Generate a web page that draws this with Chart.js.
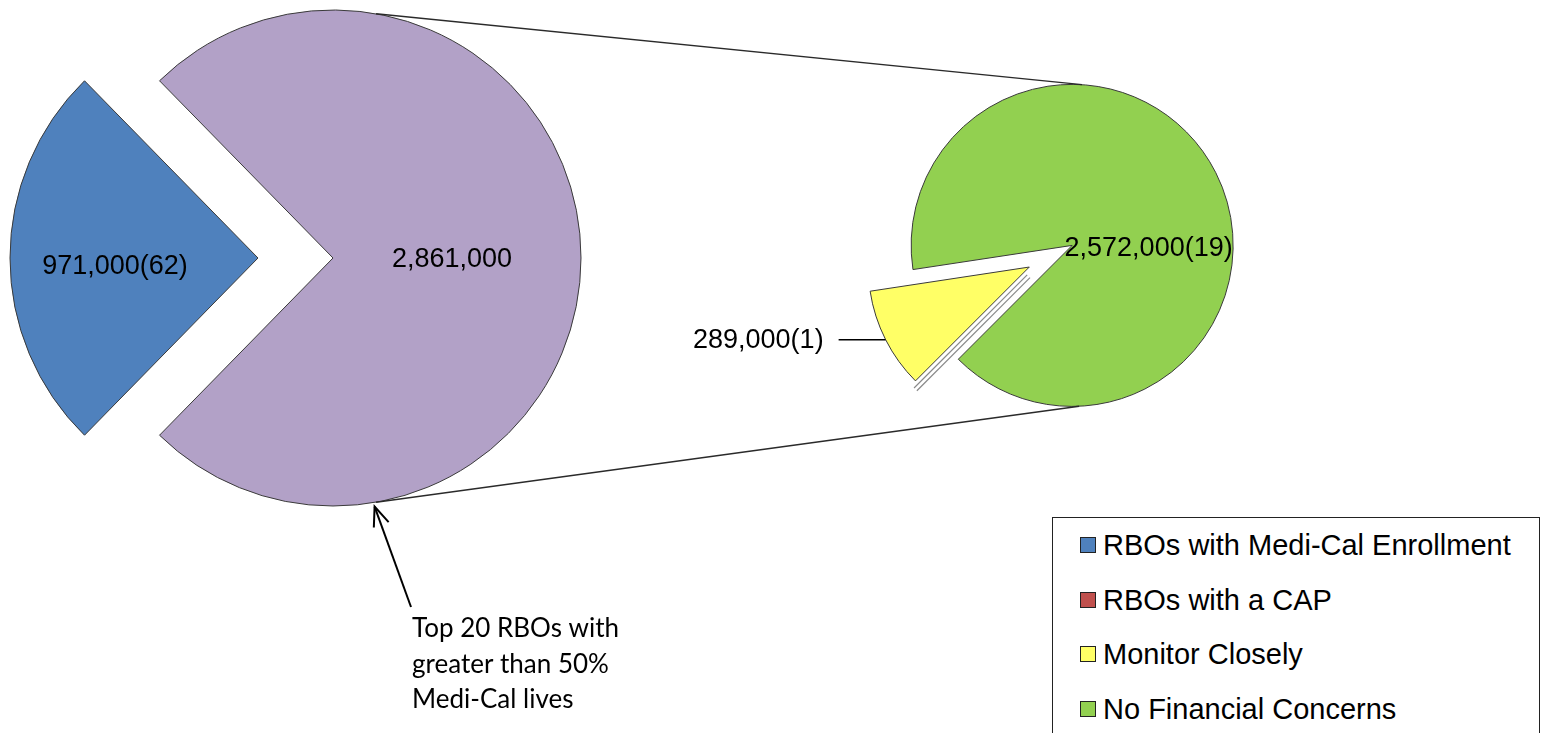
<!DOCTYPE html>
<html>
<head>
<meta charset="utf-8">
<script src="https://cdn.jsdelivr.net/npm/chart.js@4.4.0/dist/chart.umd.min.js"></script>
<style>
html, body { margin: 0; padding: 0; background: #fff; width: 1542px; height: 733px; overflow: hidden; }
.layer { position: absolute; left: 0; top: 0; width: 1542px; height: 733px; }
#legend { position: absolute; left: 1052px; top: 517px; width: 488px; height: 260px; border: 1px solid #222; box-sizing: border-box;
  font-family: "Liberation Sans", Arial, sans-serif; font-size: 29px; color: #000; background: #fff; }
.item { position: absolute; left: 27px; height: 34px; line-height: 34px; white-space: nowrap; }
.sw { display: inline-block; width: 16px; height: 16px; border: 1px solid #222; box-sizing: border-box; vertical-align: middle; margin-right: 7px; position: relative; top: -2px; }
</style>
</head>
<body>
<div class="layer"><canvas id="leftPie"></canvas></div>
<div class="layer"><canvas id="rightPie"></canvas></div>
<div id="legend"></div>
<script>
// ---------- data ----------
const leftLabels = ['RBOs with Medi-Cal Enrollment', 'Top 20 RBOs with greater than 50% Medi-Cal lives'];
const leftValues = [971000, 2861000];
const leftCounts = [62, null];
const rightLabels = ['Monitor Closely', 'No Financial Concerns'];
const rightValues = [289000, 2572000];
const rightCounts = [1, 19];
const legendLabels = ['RBOs with Medi-Cal Enrollment', 'RBOs with a CAP', 'Monitor Closely', 'No Financial Concerns'];
const legendColors = ['#4F81BD', '#C0504D', '#FFFF66', '#92D050'];
const annotationLines = ['Top 20 RBOs with', 'greater than 50%', 'Medi-Cal lives'];

// ---------- style ----------
const W = 1542, H = 733;
const leftColors = ['#4F81BD', '#B2A1C7'];
const rightColors = ['#FFFF66', '#92D050'];
const borderCol = '#3a3a3a';
const leftCenter = { x: 333, y: 258 }, leftRadius = 248;
const rightCenter = { x: 1065, y: 249 }, rightRadius = 161;
const leftExplode = [75, 0];
const rightExplode = [40, 8];
const labelFont = '27px "Liberation Sans", Arial, sans-serif';
const leftLabelPos = [{ ang: 177.6, frac: 0.577 }, { ang: -0.3, frac: 0.48 }];
const rightLabelPos = [null, { ang: 0.4, frac: 0.475 }];

function fmt(v, c) { return v.toLocaleString('en-US') + (c != null ? '(' + c + ')' : ''); }
const rad = d => d * Math.PI / 180;

function explodePlugin(amounts) {
  return {
    id: 'explodeSlices',
    afterDatasetUpdate(chart, args) {
      args.meta.data.forEach((el, i) => {
        const d = amounts[i] || 0;
        if (!d) return;
        const mid = (el.startAngle + el.endAngle) / 2;
        el.x += Math.cos(mid) * d;
        el.y += Math.sin(mid) * d;
      });
    }
  };
}

function drawDigits(ctx, text, x, cy, align) {
  ctx.save();
  ctx.font = labelFont;
  ctx.fillStyle = '#000';
  ctx.textAlign = align || 'center';
  ctx.textBaseline = 'alphabetic';
  ctx.fillText(text, x, cy + 27 * 0.36);
  ctx.restore();
}

function baseOptions(center, radius, rotation) {
  return {
    responsive: true,
    maintainAspectRatio: false,
    animation: false,
    events: [],
    radius: radius,
    rotation: rotation,
    layout: { padding: {
      left: Math.max(0, 2 * center.x - W), right: Math.max(0, W - 2 * center.x),
      top: Math.max(0, 2 * center.y - H), bottom: Math.max(0, H - 2 * center.y) } },
    plugins: { legend: { display: false }, tooltip: { enabled: false } }
  };
}

// ---------- left pie ----------
const leftTotal = leftValues.reduce((a, b) => a + b, 0);
const leftRotation = 270 - (leftValues[0] / leftTotal) * 360 / 2;
const leftChart = new Chart(document.getElementById('leftPie'), {
  type: 'pie',
  data: { labels: leftLabels, datasets: [{ data: leftValues, backgroundColor: leftColors, borderColor: borderCol, borderWidth: 1, borderJoinStyle: 'miter', clip: false }] },
  options: baseOptions(leftCenter, leftRadius, leftRotation),
  plugins: [explodePlugin(leftExplode), {
    id: 'leftLabels',
    afterDatasetsDraw(chart) {
      const ctx = chart.ctx;
      chart.getDatasetMeta(0).data.forEach((el, i) => {
        const p = leftLabelPos[i];
        const r = el.outerRadius * p.frac;
        drawDigits(ctx, fmt(leftValues[i], leftCounts[i]), el.x + Math.cos(rad(p.ang)) * r, el.y + Math.sin(rad(p.ang)) * r);
      });
    }
  }]
});

// ---------- right pie ----------
const rightChart = new Chart(document.getElementById('rightPie'), {
  type: 'pie',
  data: { labels: rightLabels, datasets: [{ data: rightValues, backgroundColor: rightColors, borderColor: borderCol, borderWidth: 1, borderJoinStyle: 'miter', clip: false }] },
  options: baseOptions(rightCenter, rightRadius, 225),
  plugins: [explodePlugin(rightExplode), {
    id: 'rightDecor',
    afterDatasetsDraw(chart) {
      const ctx = chart.ctx;
      const meta = chart.getDatasetMeta(0);
      const yel = meta.data[0], grn = meta.data[1];
      // double shadow line along yellow slice edge
      const a = yel.startAngle, n = a - Math.PI / 2;
      [[4, '#8a8a8a', 1.2], [8, '#8a8a8a', 1.2]].forEach(([dist, col, lw]) => {
        ctx.save();
        ctx.strokeStyle = col; ctx.lineWidth = lw;
        ctx.beginPath();
        ctx.moveTo(yel.x + Math.cos(a) * 7 + Math.cos(n) * dist, yel.y + Math.sin(a) * 7 + Math.sin(n) * dist);
        ctx.lineTo(yel.x + Math.cos(a) * (yel.outerRadius + 6) + Math.cos(n) * dist, yel.y + Math.sin(a) * (yel.outerRadius + 6) + Math.sin(n) * dist);
        ctx.stroke();
        ctx.restore();
      });
      // green label
      const gp = rightLabelPos[1];
      const gr = grn.outerRadius * gp.frac;
      drawDigits(ctx, fmt(rightValues[1], rightCounts[1]), grn.x + Math.cos(rad(gp.ang)) * gr, grn.y + Math.sin(rad(gp.ang)) * gr);
      // yellow outside label with leader
      const mid = (yel.startAngle + yel.endAngle) / 2;
      const ex = yel.x + Math.cos(mid) * yel.outerRadius, ey = yel.y + Math.sin(mid) * yel.outerRadius;
      ctx.save();
      ctx.strokeStyle = '#000'; ctx.lineWidth = 1.5;
      ctx.beginPath(); ctx.moveTo(ex - 47, ey); ctx.lineTo(ex, ey); ctx.stroke();
      ctx.restore();
      drawDigits(ctx, fmt(rightValues[0], rightCounts[0]), ex - 62, ey - 1.5, 'right');

      // connector lines between the two pies
      const lp = leftChart.getDatasetMeta(0).data[1];
      const conn = [[-80, -86.5], [80, 87.5]];
      ctx.save();
      ctx.strokeStyle = '#2a2a2a'; ctx.lineWidth = 1.3;
      conn.forEach(([la, ra]) => {
        ctx.beginPath();
        ctx.moveTo(lp.x + Math.cos(rad(la)) * lp.outerRadius, lp.y + Math.sin(rad(la)) * lp.outerRadius);
        ctx.lineTo(grn.x + Math.cos(rad(ra)) * grn.outerRadius, grn.y + Math.sin(rad(ra)) * grn.outerRadius);
        ctx.stroke();
      });
      ctx.restore();

      // annotation arrow
      const tipA = rad(80.5);
      const tx = lp.x + Math.cos(tipA) * (lp.outerRadius + 4), ty = lp.y + Math.sin(tipA) * (lp.outerRadius + 4);
      const sx = 411, sy = 607;
      const sh = Math.atan2(sy - ty, sx - tx);
      ctx.save();
      ctx.strokeStyle = '#000'; ctx.lineWidth = 2;
      ctx.beginPath(); ctx.moveTo(sx, sy); ctx.lineTo(tx, ty); ctx.stroke();
      ctx.beginPath();
      ctx.moveTo(tx + Math.cos(sh - rad(22)) * 21, ty + Math.sin(sh - rad(22)) * 21);
      ctx.lineTo(tx, ty);
      ctx.lineTo(tx + Math.cos(sh + rad(22)) * 21, ty + Math.sin(sh + rad(22)) * 21);
      ctx.stroke();
      ctx.restore();

      ctx.save();
      ctx.font = '26px Lato, "Open Sans", sans-serif';
      ctx.fillStyle = '#000';
      ctx.textAlign = 'left'; ctx.textBaseline = 'alphabetic';
      annotationLines.forEach((t, i) => ctx.fillText(t, 412, 637 + i * 35.5));
      ctx.restore();
    }
  }]
});

// ---------- legend ----------
const lg = document.getElementById('legend');
legendLabels.forEach((t, i) => {
  const d = document.createElement('div');
  d.className = 'item';
  d.style.top = (27 + i * 54.5 - 17) + 'px';
  const s = document.createElement('span');
  s.className = 'sw';
  s.style.background = legendColors[i];
  d.appendChild(s);
  d.appendChild(document.createTextNode(t));
  lg.appendChild(d);
});
</script>
</body>
</html>
